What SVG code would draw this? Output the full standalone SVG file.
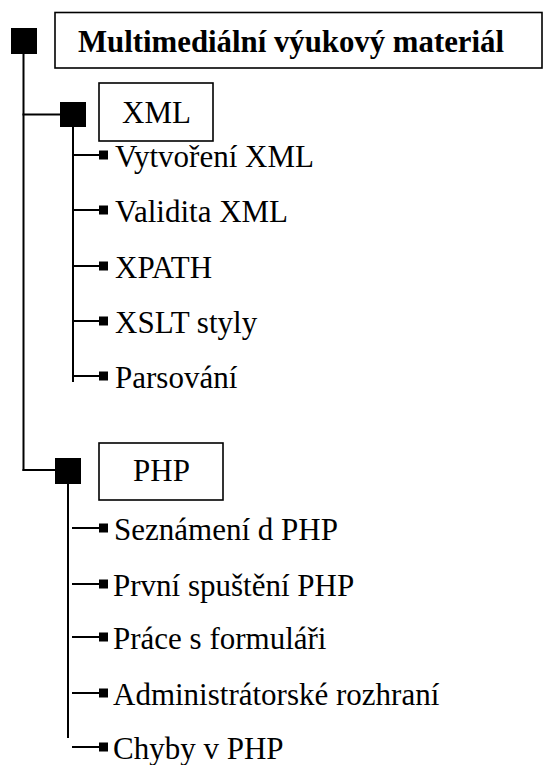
<svg xmlns="http://www.w3.org/2000/svg" width="543" height="765" viewBox="0 0 543 765">
<style>
.bg{fill:#fff}
.ln{stroke:#000;stroke-width:2;fill:none}
.box{fill:#fff;stroke:#000;stroke-width:1.6}
.sq{fill:#000}
.t{font-family:"Liberation Serif","Times New Roman",serif;font-size:31px;fill:#000}
.b{font-weight:bold;font-size:30.8px}
</style>
<rect class="bg" x="0" y="0" width="543" height="765"/>
<g id="connectors">
<line class="ln" x1="23.5" y1="54" x2="23.5" y2="471"/>
<line class="ln" x1="22.5" y1="114.5" x2="60" y2="114.5"/>
<line class="ln" x1="22.5" y1="470" x2="55" y2="470"/>
<line class="ln" x1="73" y1="127" x2="73" y2="382"/>
<line class="ln" x1="72" y1="155" x2="100" y2="155"/>
<line class="ln" x1="72" y1="210" x2="100" y2="210"/>
<line class="ln" x1="72" y1="266" x2="100" y2="266"/>
<line class="ln" x1="72" y1="321" x2="100" y2="321"/>
<line class="ln" x1="72" y1="376" x2="100" y2="376"/>
<line class="ln" x1="68" y1="484" x2="68" y2="738"/>
<line class="ln" x1="72" y1="528" x2="100" y2="528"/>
<line class="ln" x1="72" y1="584" x2="100" y2="584"/>
<line class="ln" x1="72" y1="637" x2="100" y2="637"/>
<line class="ln" x1="72" y1="693" x2="100" y2="693"/>
<line class="ln" x1="72" y1="747" x2="100" y2="747"/>
</g>
<g id="root">
<rect class="sq" x="11" y="28" width="26" height="26"/>
<rect class="box" x="55" y="12.5" width="487" height="55.5"/>
<text class="t b" x="78" y="52">Multimediální výukový materiál</text>
</g>
<g id="xml">
<rect class="sq" x="60" y="102" width="26" height="25"/>
<rect class="box" x="99" y="83" width="114" height="58"/>
<text class="t" x="122" y="123">XML</text>
</g>
<g id="xml-items">
<g id="vytvoreni"><rect class="sq" x="99" y="150.5" width="9" height="9"/><text class="t" x="115" y="167">Vytvoření XML</text></g>
<g id="validita"><rect class="sq" x="99" y="205.5" width="9" height="9"/><text class="t" x="115" y="222">Validita XML</text></g>
<g id="xpath"><rect class="sq" x="99" y="261.5" width="9" height="9"/><text class="t" x="115" y="278">XPATH</text></g>
<g id="xslt"><rect class="sq" x="99" y="316.5" width="9" height="9"/><text class="t" x="115" y="333">XSLT styly</text></g>
<g id="parsovani"><rect class="sq" x="99" y="371.5" width="9" height="9"/><text class="t" x="115" y="388">Parsování</text></g>
</g>
<g id="php">
<rect class="sq" x="55" y="458" width="26" height="26"/>
<rect class="box" x="99" y="443" width="124" height="57"/>
<text class="t" x="133" y="481">PHP</text>
</g>
<g id="php-items">
<g id="seznameni"><rect class="sq" x="99" y="523.5" width="9" height="9"/><text class="t" x="114" y="540">Seznámení d PHP</text></g>
<g id="prvni"><rect class="sq" x="99" y="579.5" width="9" height="9"/><text class="t" x="113" y="596">První spuštění PHP</text></g>
<g id="prace"><rect class="sq" x="99" y="632.5" width="9" height="9"/><text class="t" x="113" y="649">Práce s formuláři</text></g>
<g id="admin"><rect class="sq" x="99" y="688.5" width="9" height="9"/><text class="t" x="113" y="705">Administrátorské rozhraní</text></g>
<g id="chyby"><rect class="sq" x="99" y="742.5" width="9" height="9"/><text class="t" x="113" y="759">Chyby v PHP</text></g>
</g>
</svg>
